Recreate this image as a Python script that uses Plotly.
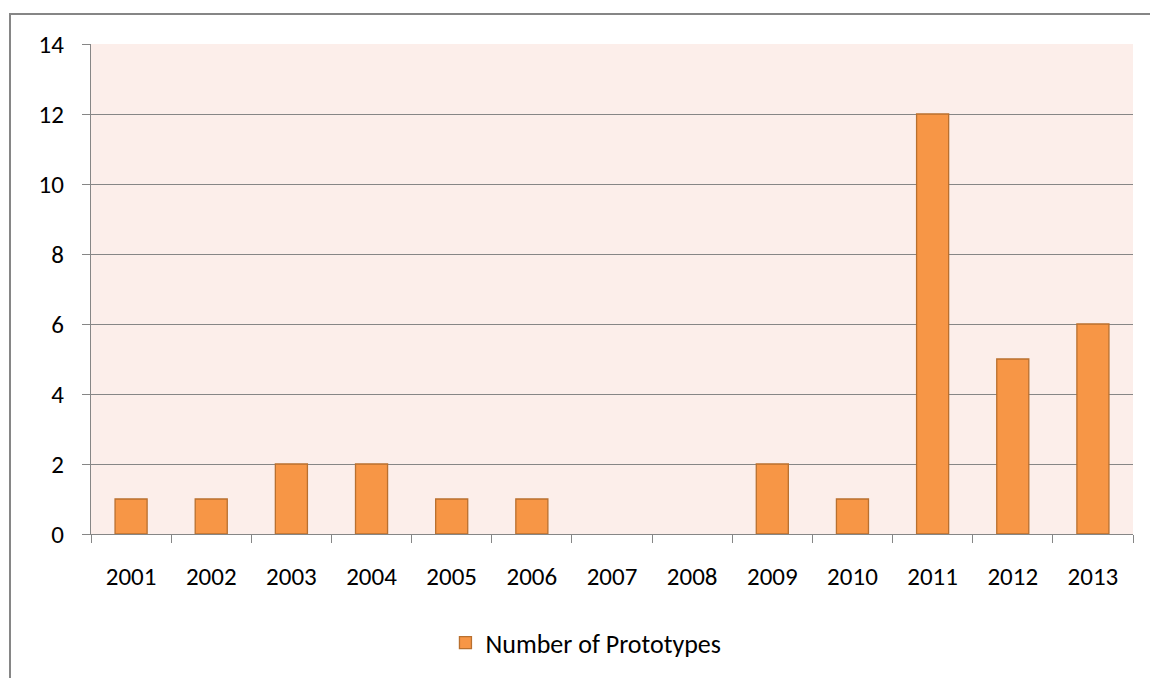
import plotly.graph_objects as go

years = ["2001", "2002", "2003", "2004", "2005", "2006", "2007", "2008", "2009", "2010", "2011", "2012", "2013"]
prototypes = [1, 1, 2, 2, 1, 1, 0, 0, 2, 1, 12, 5, 6]
y_ticks = [0, 2, 4, 6, 8, 10, 12, 14]

FONT = "Carlito, Calibri, Lato, sans-serif"
L, R, T, B = 91, 17, 44, 142
W, H = 1150, 678
pw, ph = W - L - R, H - T - B

fig = go.Figure()
fig.add_trace(go.Bar(
    x=years, y=prototypes, name="Number of Prototypes",
    marker=dict(color="#F79646",
                line=dict(color="#B9702F", width=[1.3 if v > 0 else 0 for v in prototypes])),
    showlegend=True,
))

fig.update_layout(
    width=W, height=H,
    margin=dict(l=L, r=R, t=T, b=B),
    paper_bgcolor="white",
    plot_bgcolor="#FCEEEA",
    bargap=0.6,
    font=dict(family=FONT, size=25, color="black"),
    showlegend=True,
    legend=dict(orientation="h", x=0.475, xanchor="center", y=-0.222, yanchor="middle",
                font=dict(family=FONT, size=26, color="black"), itemwidth=30),
    xaxis=dict(
        type="category", tickson="boundaries", ticks="outside", ticklen=8,
        tickcolor="#868686", tickwidth=1.3, showline=True, linecolor="#868686", linewidth=1.3,
        showgrid=False, ticklabelstandoff=20, tickfont=dict(family=FONT, size=25),
    ),
    yaxis=dict(
        range=[0, 14], tickvals=y_ticks, ticks="outside", ticklen=8,
        tickcolor="#868686", tickwidth=1.3, showline=True, linecolor="#868686", linewidth=1.3,
        showgrid=True, gridcolor="#868686", gridwidth=1.3, zeroline=False,
        ticklabelstandoff=13, tickfont=dict(family=FONT, size=25),
    ),
)

# outer chart border
fig.add_shape(type="rect", xref="paper", yref="paper",
              x0=(10 - L) / pw, x1=(W + 20 - L) / pw,
              y0=(H - B - (H + 20)) / ph, y1=(H - B - 14) / ph,
              line=dict(color="#868686", width=2), layer="below")

fig.write_html("out.html")
